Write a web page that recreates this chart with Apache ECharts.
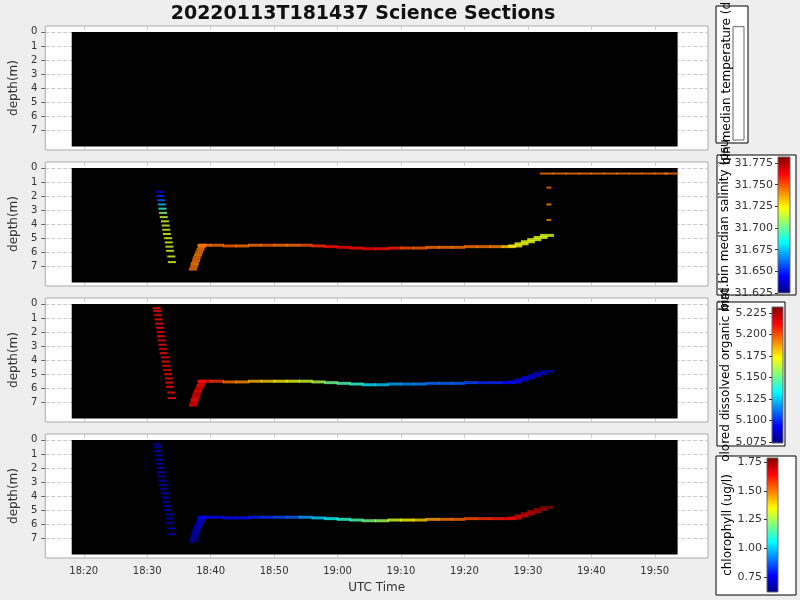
<!DOCTYPE html>
<html><head><meta charset="utf-8">
<script src="https://cdn.jsdelivr.net/npm/echarts@6/dist/echarts.min.js"></script>
<style>html,body{margin:0;background:#eeeeee}#main{width:800px;height:600px}</style>
</head><body><div id="main"></div>
<script>
// time in minutes after 18:00 UTC, depth in m
var downT = [31.5,31.6,31.7,31.8,31.9,32.0,32.1,32.2,32.3,32.4,32.5,32.6,32.8,32.9,33.0,33.1,33.3,33.4,33.5,33.6,33.8,33.9];
var downD = [0.3,0.5,0.8,1.1,1.4,1.7,2.0,2.3,2.6,2.9,3.2,3.5,3.8,4.1,4.4,4.7,5.0,5.3,5.6,5.9,6.3,6.7];
var downSal = [null,null,null,null,null,31.64,31.65,31.66,31.675,31.69,31.705,31.715,31.718,31.718,31.718,31.718,31.718,31.718,31.718,31.718,31.718,31.718];
var downCdom = [5.21,5.21,5.215,5.21,5.21,5.21,5.215,5.21,5.21,5.21,5.215,5.21,5.21,5.21,5.21,5.215,5.21,5.21,5.21,5.21,5.21,5.21];
var downChl = [0.68,0.68,0.7,0.68,0.7,0.68,0.7,0.7,0.68,0.7,0.7,0.68,0.7,0.7,0.68,0.7,0.7,0.7,0.68,0.7,0.7,0.7];

var upT = [37.2,37.4,37.5,37.7,37.8,38.0,38.2,38.4,38.6,38.8];
var upD = [7.2,7.0,6.8,6.6,6.4,6.2,6.0,5.8,5.6,5.5];
var upSal = [31.745,31.745,31.742,31.745,31.745,31.742,31.745,31.745,31.742,31.745];
var upCdom = [5.215,5.215,5.21,5.215,5.215,5.21,5.215,5.21,5.215,5.21];
var upChl = [0.66,0.68,0.68,0.7,0.7,0.72,0.72,0.72,0.74,0.75];

var flatT = [39,41,43,45,47,49,51,53,55,57,59,61,63,65,67,69,71,73,75,77,79,81,83,85,87,88,89,90,91,92,93];
var flatD = [5.5,5.5,5.55,5.55,5.5,5.5,5.5,5.5,5.5,5.55,5.6,5.65,5.7,5.75,5.75,5.7,5.7,5.7,5.65,5.65,5.65,5.6,5.6,5.6,5.6,5.55,5.4,5.25,5.1,4.95,4.8];
var flatSal = [31.745,31.745,31.748,31.745,31.745,31.748,31.745,31.745,31.75,31.755,31.76,31.762,31.76,31.762,31.76,31.758,31.75,31.748,31.745,31.745,31.745,31.745,31.745,31.742,31.73,31.725,31.722,31.72,31.72,31.718,31.718];
var flatCdom = [5.21,5.205,5.195,5.19,5.185,5.18,5.175,5.17,5.165,5.16,5.15,5.145,5.14,5.13,5.125,5.12,5.115,5.115,5.11,5.11,5.11,5.105,5.1,5.1,5.095,5.095,5.09,5.09,5.085,5.085,5.08];
var flatChl = [0.75,0.76,0.77,0.78,0.8,0.82,0.85,0.88,0.95,1.0,1.05,1.1,1.15,1.2,1.25,1.3,1.35,1.4,1.45,1.5,1.52,1.55,1.58,1.6,1.62,1.65,1.68,1.7,1.72,1.75,1.78];

var surfT = [93,95,97,99,101,103,105,107,109,111,112.6];
var surfD = [0.4,0.4,0.4,0.4,0.4,0.4,0.4,0.4,0.4,0.4,0.4];
var surfSal = [31.745,31.745,31.745,31.745,31.745,31.745,31.745,31.745,31.745,31.745,31.745];
var dotT = [93.3,93.3,93.3];
var dotD = [1.4,2.6,3.7];
var dotSal = [31.745,31.74,31.742];

var timeTicks = [20,30,40,50,60,70,80,90,100,110];
var timeLabels = ['18:20','18:30','18:40','18:50','19:00','19:10','19:20','19:30','19:40','19:50'];
var depthTicks = [0,1,2,3,4,5,6,7];

var jet = ['#00007f','#0000ff','#007fff','#00ffff','#7fff7f','#ffff00','#ff7f00','#ff0000','#7f0000'];
function grad() {
  return new echarts.graphic.LinearGradient(0, 1, 0, 0, jet.map(function (c, i) {
    return {offset: i / (jet.length - 1), color: c};
  }));
}
function pts(t, d, v) {
  var out = [];
  for (var i = 0; i < t.length; i++) if (v == null || v[i] != null) out.push([t[i], d[i], v ? v[i] : 0]);
  return out;
}

var panelTops = [26, 162, 298, 434];
var grids = [], xAxes = [], yAxes = [], series = [], visualMaps = [];
panelTops.forEach(function (top, i) {
  grids.push({left: 42, width: 666, top: top, height: 124, show: true, backgroundColor: '#fff', borderColor: '#aaa', borderWidth: 1});
  xAxes.push({
    type: 'value', gridIndex: i, min: 13.93, max: 118.39,
    name: i === 3 ? 'UTC Time' : '', nameLocation: 'middle', nameGap: 24,
    nameTextStyle: {fontSize: 12, color: '#333'},
    axisLine: {show: false},
    axisTick: {show: i === 3, customValues: timeTicks, length: 4, lineStyle: {color: '#666'}},
    axisLabel: {show: i === 3, customValues: timeTicks, fontSize: 10, color: '#333',
      formatter: function (v) { return timeLabels[timeTicks.indexOf(v)] || ''; }},
    splitLine: {show: true, lineStyle: {color: '#ccc', type: 'dashed'}}
  });
  yAxes.push({
    type: 'value', gridIndex: i, min: -0.42, max: 8.4, inverse: true,
    name: 'depth(m)', nameLocation: 'middle', nameGap: 22, nameTextStyle: {fontSize: 12, color: '#333'},
    axisLine: {show: false},
    axisTick: {show: true, customValues: depthTicks, length: 4, lineStyle: {color: '#666'}},
    axisLabel: {customValues: depthTicks, fontSize: 10, color: '#333'},
    splitLine: {show: true, lineStyle: {color: '#ccc', type: 'dashed'}}
  });
  series.push({
    type: 'scatter', xAxisIndex: i, yAxisIndex: i, data: [], silent: true,
    markArea: {silent: true, itemStyle: {color: '#000'}, data: [[{coord: [18.1, 0]}, {coord: [113.6, 8.15]}]]}
  });
});

function addSeries(panel, data, size, vm) {
  series.push({type: 'scatter', xAxisIndex: panel, yAxisIndex: panel, data: data, symbol: 'rect',
    symbolSize: size, z: 5, silent: true});
  vm.seriesIndex.push(series.length - 1);
}
var vmSal = {type: 'continuous', show: false, min: 31.625, max: 31.782, dimension: 2, inRange: {color: jet}, seriesIndex: []};
var vmCdom = {type: 'continuous', show: false, min: 5.074, max: 5.232, dimension: 2, inRange: {color: jet}, seriesIndex: []};
var vmChl = {type: 'continuous', show: false, min: 0.62, max: 1.785, dimension: 2, inRange: {color: jet}, seriesIndex: []};
addSeries(1, pts(downT, downD, downSal), [8, 2], vmSal);
addSeries(1, pts(upT, upD, upSal), [8, 3], vmSal);
addSeries(1, pts(flatT, flatD, flatSal), [14, 3], vmSal);
addSeries(1, pts(surfT, surfD, surfSal), [14, 2], vmSal);
addSeries(1, pts(dotT, dotD, dotSal), [5, 2], vmSal);
addSeries(2, pts(downT, downD, downCdom), [8, 2], vmCdom);
addSeries(2, pts(upT, upD, upCdom), [8, 3], vmCdom);
addSeries(2, pts(flatT, flatD, flatCdom), [14, 3], vmCdom);
addSeries(3, pts(downT, downD, downChl), [8, 2], vmChl);
addSeries(3, pts(upT, upD, upChl), [8, 3], vmChl);
addSeries(3, pts(flatT, flatD, flatChl), [14, 3], vmChl);
visualMaps = [vmSal, vmCdom, vmChl];

// colour bars
var bars = [
  {left: 733, width: 11, top: 9, height: 131, min: 0, max: 1, ticks: [], name: 'bin median temperature (d', gap: 0, dec: 0, fill: '#fff', box: [716, 6, 32, 137]},
  {left: 778, width: 12, top: 157, height: 136, min: 31.625, max: 31.782, ticks: [31.625,31.65,31.675,31.7,31.725,31.75,31.775], name: 'bird.bin median salinity (psu', gap: 42, dec: 3, fill: grad(), box: [717, 155, 79, 140]},
  {left: 772, width: 11, top: 307, height: 136, min: 5.074, max: 5.232, ticks: [5.075,5.1,5.125,5.15,5.175,5.2,5.225], name: 'olored dissolved organic mat', gap: 36, dec: 3, fill: grad(), box: [717, 302, 68, 144]},
  {left: 767, width: 11, top: 458, height: 134, min: 0.62, max: 1.785, ticks: [0.75,1,1.25,1.5,1.75], name: 'chlorophyll (ug/l)', gap: 31, dec: 2, fill: grad(), box: [716, 456, 80, 139]}
];
var graphics = [];
bars.forEach(function (b, k) {
  var gi = grids.length;
  grids.push({left: b.left, width: b.width, top: b.top, height: b.height, show: true, backgroundColor: b.fill, borderColor: '#666', borderWidth: 1});
  xAxes.push({type: 'value', gridIndex: gi, show: false, min: 0, max: 1});
  yAxes.push({
    type: 'value', gridIndex: gi, min: b.min, max: b.max, position: 'left',
    name: b.name, nameLocation: 'middle', nameRotate: 90, nameGap: b.gap,
    nameTextStyle: {fontSize: 12, color: '#000'},
    axisLine: {show: false},
    axisTick: {show: b.ticks.length > 0, customValues: b.ticks, length: 3, lineStyle: {color: '#333'}},
    axisLabel: {show: b.ticks.length > 0, customValues: b.ticks, fontSize: 11, color: '#333', margin: 5,
      formatter: function (v) { return v.toFixed(b.dec); }},
    splitLine: {show: false}
  });
  graphics.push({type: 'rect', z: -10, shape: {x: b.box[0], y: b.box[1], width: b.box[2], height: b.box[3]},
    style: {fill: '#fff', stroke: '#000', lineWidth: 1}});
});

var chart = echarts.init(document.getElementById('main'));
chart.setOption({
  backgroundColor: '#eeeeee',
  animation: false,
  title: {text: '20220113T181437 Science Sections', left: 358, textAlign: 'center', top: 0,
    textStyle: {fontSize: 19, fontWeight: 'bold', color: '#111', fontFamily: 'DejaVu Sans'}},
  textStyle: {fontFamily: 'DejaVu Sans'},
  graphic: graphics,
  grid: grids, xAxis: xAxes, yAxis: yAxes, visualMap: visualMaps, series: series
});
</script></body></html>
